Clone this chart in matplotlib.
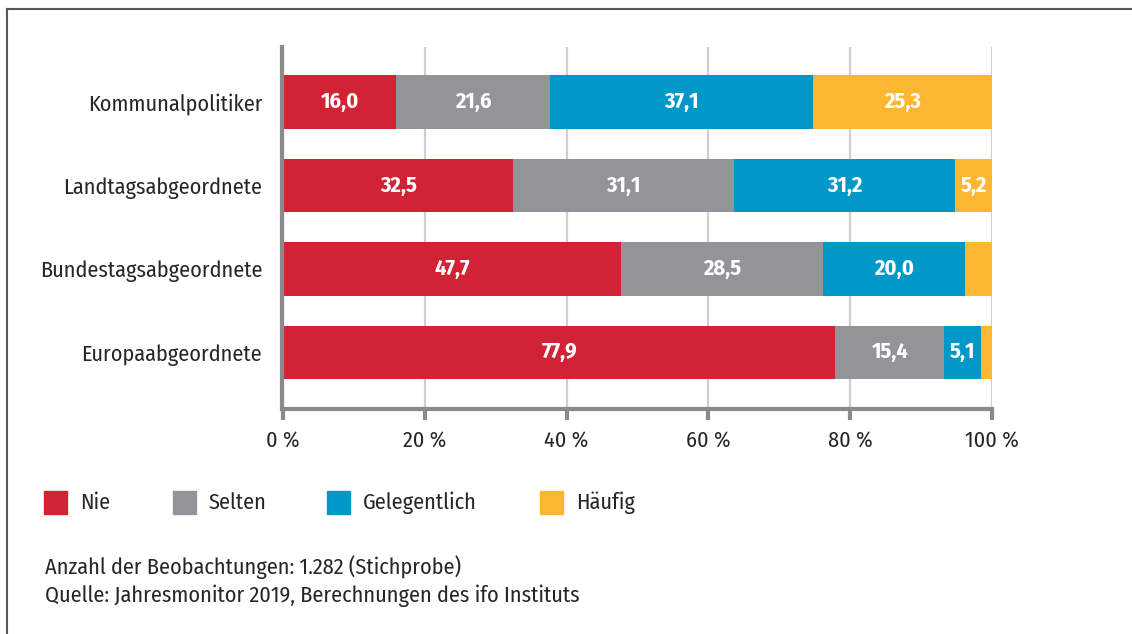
import matplotlib
matplotlib.use("Agg")
import matplotlib.pyplot as plt
from matplotlib.patches import Rectangle
from matplotlib.lines import Line2D
import numpy as np

plt.rcParams['font.family'] = ['Fira Sans Condensed', 'Fira Sans', 'DejaVu Sans']

categories = ["Kommunalpolitiker", "Landtagsabgeordnete", "Bundestagsabgeordnete", "Europaabgeordnete"]
series = ["Nie", "Selten", "Gelegentlich", "Häufig"]
nie = [16.0, 32.5, 47.7, 77.9]
selten = [21.6, 31.1, 28.5, 15.4]
gelegentlich = [37.1, 31.2, 20.0, 5.1]
haeufig = [25.3, 5.2, 3.8, 1.6]
colors = ["#d12335", "#939497", "#0097c9", "#fbb732"]
xticks = [0, 20, 40, 60, 80, 100]
note_lines = ["Anzahl der Beobachtungen: 1.282 (Stichprobe)",
              "Quelle: Jahresmonitor 2019, Berechnungen des ifo Instituts"]

FS = 16
TXT = "#262626"
W, H = 1132, 634
fig = plt.figure(figsize=(W / 100, H / 100), dpi=100)
ax = fig.add_axes([283 / W, 1 - 409 / H, (992 - 283) / W, (409 - 47) / H])

y = np.arange(len(categories))
left = np.zeros(len(categories))
for name, vals, col in zip(series, [nie, selten, gelegentlich, haeufig], colors):
    vals = np.array(vals)
    ax.barh(y, vals, left=left, height=0.64, color=col, zorder=3, label=name)
    for yi, (l, v) in enumerate(zip(left, vals)):
        if v >= 5:
            ax.text(l + v / 2, yi, f"{v:.1f}".replace(".", ","), ha="center", va="center",
                    color="white", fontsize=FS, fontweight="bold", zorder=4)
    left = left + vals

ax.set_xlim(0, 100)
ax.set_ylim(3.68, -0.66)
ax.set_yticks(y)
ax.set_yticklabels(categories)
ax.set_xticks(xticks)
ax.set_xticklabels([f"{t} %" for t in xticks])
ax.tick_params(axis="y", length=0, pad=14, labelsize=FS, labelcolor=TXT)
ax.tick_params(axis="x", length=8, width=3, color="#8a8a8c", pad=7, direction="out",
               labelsize=FS, labelcolor=TXT)
ax.grid(axis="x", color="#cfcfcf", linewidth=1.6, zorder=0)
for s in ["top", "right"]:
    ax.spines[s].set_visible(False)
for s in ["left", "bottom"]:
    ax.spines[s].set_color("#8a8a8c")
    ax.spines[s].set_linewidth(3)
    ax.spines[s].set_zorder(5)
ax.spines["left"].set_position(("outward", 1))

# frame
fig.add_artist(Line2D([7 / W, 1.0], [1 - 9 / H, 1 - 9 / H], color="#555555", linewidth=1.5))
fig.add_artist(Line2D([7 / W, 7 / W], [1 - 9 / H, 0], color="#555555", linewidth=1.5))

# legend
sq_x = [44, 173, 327, 540]
for name, col, sx in zip(series, colors, sq_x):
    fig.add_artist(Rectangle((sx / W, 1 - 514 / H), 23 / W, 23 / H, color=col,
                             transform=fig.transFigure))
    fig.text((sx + 36) / W, 1 - 503 / H, name, ha="left", va="center", fontsize=FS, color=TXT)

for i, line in enumerate(note_lines):
    fig.text(45 / W, 1 - (567 + 29 * i) / H, line, ha="left", va="center", fontsize=FS, color=TXT)

fig.savefig("out.png", dpi=100)
